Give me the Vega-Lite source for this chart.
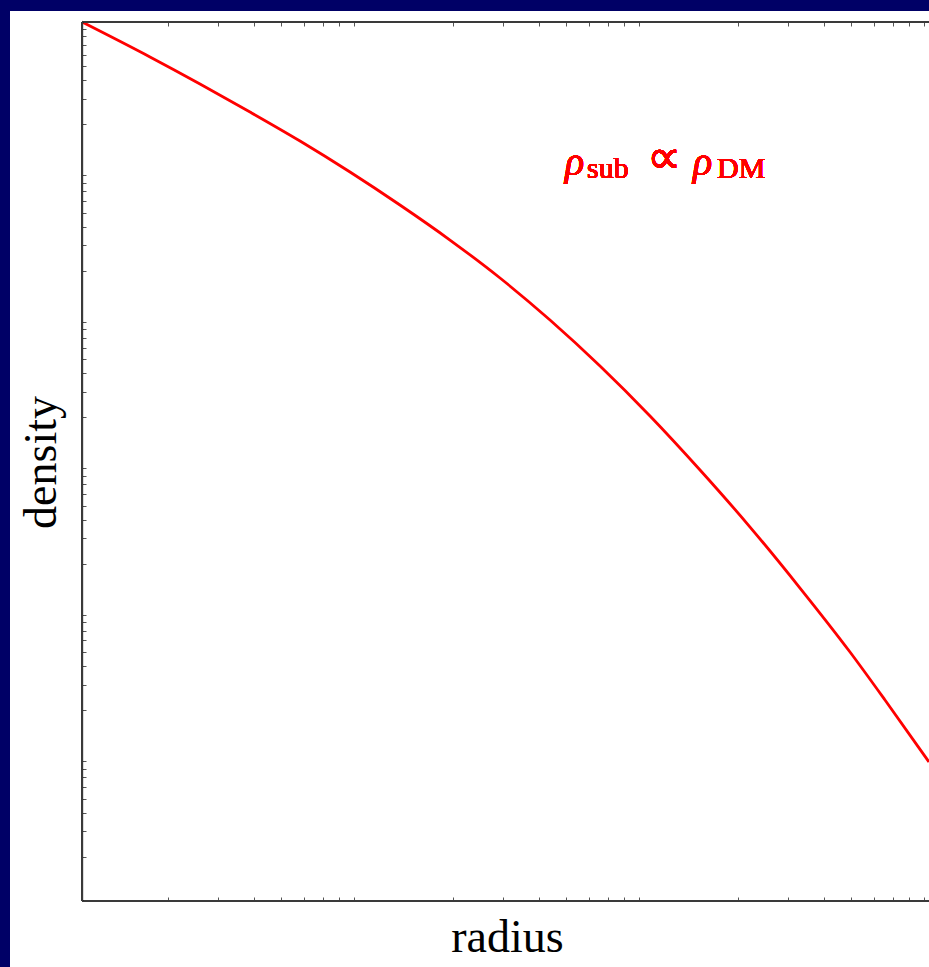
{
  "$schema": "https://vega.github.io/schema/vega-lite/v6.json",
  "width": 919,
  "height": 956,
  "autosize": {"type": "none"},
  "padding": {"left": 10, "top": 11, "right": 0, "bottom": 0},
  "background": "#000066",
  "config": {
    "view": {"fill": "#ffffff", "stroke": null},
    "axis": {"grid": false, "labels": false, "domain": false, "tickSize": -4, "tickColor": "#555555", "tickWidth": 1}
  },
  "data": {
    "values": [
      {"r": 1, "rho": 1},
      {"r": 1.732, "rho": 0.5770},
      {"r": 2.594, "rho": 0.3774},
      {"r": 3.886, "rho": 0.2430},
      {"r": 5.821, "rho": 0.1541},
      {"r": 8.717, "rho": 0.09465},
      {"r": 13.05, "rho": 0.05635},
      {"r": 19.55, "rho": 0.0325},
      {"r": 29.29, "rho": 0.01789},
      {"r": 43.86, "rho": 0.009245},
      {"r": 65.70, "rho": 0.004486},
      {"r": 98.40, "rho": 0.002045},
      {"r": 147.4, "rho": 0.000875},
      {"r": 220.8, "rho": 0.000357},
      {"r": 330.6, "rho": 0.0001369},
      {"r": 495.1, "rho": 0.00005008},
      {"r": 656.9, "rho": 0.00002355},
      {"r": 937.3, "rho": 0.000008888}
    ]
  },
  "resolve": {"axis": {"x": "independent", "y": "independent"}},
  "layer": [
    {
      "mark": {"type": "line", "color": "#ff0000", "strokeWidth": 2.8, "clip": true, "interpolate": "monotone"},
      "encoding": {
        "x": {
          "field": "r", "type": "quantitative",
          "scale": {"type": "log", "domain": [0.5589, 937.4], "nice": false},
          "axis": {
            "orient": "bottom", "offset": -66, "title": "radius",
            "values": [2,3,4,5,6,7,8,9,20,30,40,50,60,70,80,90,200,300,400,500,600,700,800,900],
            "titleFont": "Liberation Serif", "titleFontSize": 46, "titleFontWeight": "normal", "titleColor": "#000000",
            "titleX": 497, "titleY": 50, "titleBaseline": "alphabetic", "titleAlign": "center", "titleAnchor": null
          }
        },
        "y": {
          "field": "rho", "type": "quantitative",
          "scale": {"type": "log", "domain": [3.543e-7, 1.189], "nice": false},
          "axis": {
            "orient": "left", "offset": -72, "title": "density",
            "values": [2e-6,3e-6,4e-6,5e-6,6e-6,7e-6,8e-6,9e-6,2e-5,3e-5,4e-5,5e-5,6e-5,7e-5,8e-5,9e-5,2e-4,3e-4,4e-4,5e-4,6e-4,7e-4,8e-4,9e-4,0.002,0.003,0.004,0.005,0.006,0.007,0.008,0.009,0.02,0.03,0.04,0.05,0.06,0.07,0.08,0.09,0.2,0.3,0.4,0.5,0.6,0.7,0.8,0.9],
            "titleFont": "Liberation Serif", "titleFontSize": 46, "titleFontWeight": "normal", "titleColor": "#000000",
            "titleAngle": -90, "titleX": -27, "titleY": 451, "titleBaseline": "alphabetic", "titleAlign": "center", "titleAnchor": null
          }
        }
      }
    },
    {
      "mark": {"type": "rule", "color": "#3a3a3a", "strokeWidth": 2},
      "encoding": {
        "x": {"datum": 1, "axis": {
            "orient": "top", "offset": -11, "title": null,
            "values": [2,3,4,5,6,7,8,9,20,30,40,50,60,70,80,90,200,300,400,500,600,700,800,900]
        }},
        "x2": {"datum": 937.4},
        "y": {"datum": 1, "axis": null}
      }
    },
    {
      "mark": {"type": "rule", "color": "#3a3a3a", "strokeWidth": 2},
      "encoding": {
        "x": {"datum": 1, "axis": null},
        "x2": {"datum": 937.4},
        "y": {"datum": 0.000001, "axis": null}
      }
    },
    {
      "mark": {"type": "rule", "color": "#3a3a3a", "strokeWidth": 2},
      "encoding": {
        "x": {"datum": 1, "axis": null},
        "y": {"datum": 0.000001, "axis": null},
        "y2": {"datum": 1}
      }
    },
    {
      "mark": {"type": "text", "text": "ρ", "font": "Liberation Serif", "fontStyle": "italic", "fontWeight": 400, "fontSize": 40, "fill": "#ff0000", "align": "left", "baseline": "alphabetic", "dx": 0},
      "encoding": {"x": {"datum": 49.5, "axis": null}, "y": {"datum": 0.0903, "axis": null}}
    },
    {
      "mark": {"type": "text", "text": "sub", "font": "Liberation Serif", "fontWeight": 400, "fontSize": 30, "fill": "#ff0000", "align": "left", "baseline": "alphabetic", "dx": 22, "dy": 3},
      "encoding": {"x": {"datum": 49.5, "axis": null}, "y": {"datum": 0.0903, "axis": null}}
    },
    {
      "mark": {"type": "text", "text": "∝", "font": "Liberation Serif", "fontWeight": 400, "fontSize": 48, "fill": "#ff0000", "align": "center", "baseline": "alphabetic", "dx": 99, "dy": -2},
      "encoding": {"x": {"datum": 49.5, "axis": null}, "y": {"datum": 0.0903, "axis": null}}
    },
    {
      "mark": {"type": "text", "text": "ρ", "font": "Liberation Serif", "fontStyle": "italic", "fontWeight": 400, "fontSize": 40, "fill": "#ff0000", "align": "left", "baseline": "alphabetic", "dx": 128},
      "encoding": {"x": {"datum": 49.5, "axis": null}, "y": {"datum": 0.0903, "axis": null}}
    },
    {
      "mark": {"type": "text", "text": "DM", "font": "Liberation Serif", "fontWeight": 400, "fontSize": 30, "fill": "#ff0000", "align": "left", "baseline": "alphabetic", "dx": 152, "dy": 3},
      "encoding": {"x": {"datum": 49.5, "axis": null}, "y": {"datum": 0.0903, "axis": null}}
    }
  ]
}
